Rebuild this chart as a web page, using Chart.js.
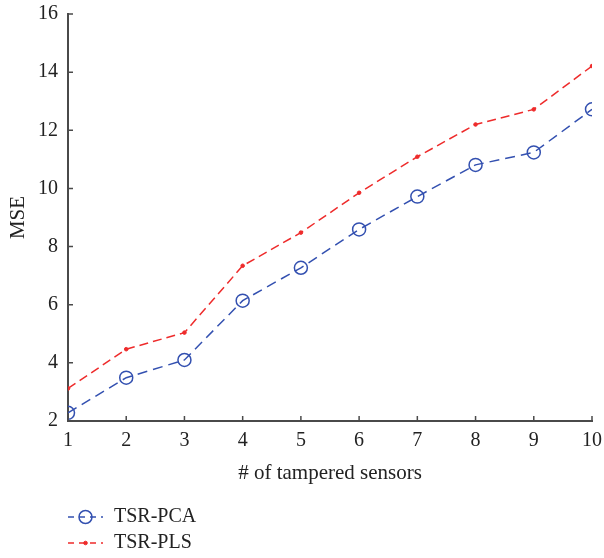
<!DOCTYPE html>
<html>
<head>
<meta charset="utf-8">
<title>MSE vs tampered sensors</title>
<script src="https://cdn.jsdelivr.net/npm/chart.js@4.4.1/dist/chart.umd.min.js"></script>
<style>
  html, body { margin: 0; padding: 0; background: #fff; }
  #wrap { width: 604px; height: 558px; position: relative; }
</style>
</head>
<body>
<div id="wrap"><canvas id="c" width="604" height="558"></canvas></div>
<script>
// Number of tampered sensors
const sensors = [1, 2, 3, 4, 5, 6, 7, 8, 9, 10];
// Mean squared error of each detector
const pcaMSE = [2.28, 3.49, 4.10, 6.14, 7.27, 8.59, 9.72, 10.81, 11.24, 12.72];
const plsMSE = [3.12, 4.47, 5.04, 7.34, 8.48, 9.85, 11.09, 12.20, 12.72, 14.21];
// Axis ticks
const xTicks = [1, 2, 3, 4, 5, 6, 7, 8, 9, 10];
const yTicks = [2, 4, 6, 8, 10, 12, 14, 16];

const SERIF = '"Liberation Serif", "DejaVu Serif", serif';
const AXIS = '#4a4a4a';
const BLUE = '#3350b0';
const RED = '#ee2b2b';

// Short tick marks pointing into the plot area
const innerTicks = {
  id: 'innerTicks',
  afterDraw(chart) {
    const { ctx, scales: { x, y } } = chart;
    const len = 5;
    ctx.save();
    ctx.strokeStyle = AXIS;
    ctx.lineWidth = 1.5;
    ctx.beginPath();
    xTicks.forEach(v => {
      const px = x.getPixelForValue(v);
      ctx.moveTo(px, y.bottom);
      ctx.lineTo(px, y.bottom - len);
    });
    yTicks.forEach(v => {
      const py = y.getPixelForValue(v);
      ctx.moveTo(x.left, py);
      ctx.lineTo(x.left + len, py);
    });
    ctx.stroke();
    ctx.restore();
  }
};

// Legend stacked under the axis: dashed sample line with its marker, then the label
const stackedLegend = {
  id: 'stackedLegend',
  afterDraw(chart) {
    const { ctx } = chart;
    const x0 = chart.chartArea.left;
    const rows = [517, 543];
    ctx.save();
    chart.data.datasets.forEach((ds, i) => {
      const cy = rows[i];
      ctx.strokeStyle = ds.borderColor;
      ctx.lineWidth = ds.borderWidth;
      ctx.setLineDash([6, 5]);
      ctx.beginPath();
      ctx.moveTo(x0, cy);
      ctx.lineTo(x0 + 35, cy);
      ctx.stroke();
      ctx.setLineDash([]);
      const mx = x0 + 17.5;
      ctx.beginPath();
      ctx.arc(mx, cy, ds.pointRadius, 0, Math.PI * 2);
      if (ds.pointBackgroundColor && ds.pointBackgroundColor !== 'transparent') {
        ctx.fillStyle = ds.pointBackgroundColor;
        ctx.fill();
      }
      ctx.strokeStyle = ds.pointBorderColor;
      ctx.lineWidth = ds.pointBorderWidth;
      ctx.stroke();
      ctx.fillStyle = '#222';
      ctx.font = '20px ' + SERIF;
      ctx.textAlign = 'left';
      ctx.textBaseline = 'middle';
      ctx.fillText(ds.label, x0 + 46, cy);
    });
    ctx.restore();
  }
};

new Chart(document.getElementById('c'), {
  type: 'line',
  data: {
    labels: sensors,
    datasets: [
      {
        label: 'TSR-PCA',
        data: pcaMSE,
        borderColor: BLUE,
        borderWidth: 1.5,
        borderDash: [10, 6],
        pointStyle: 'circle',
        pointRadius: 6.5,
        pointBorderColor: BLUE,
        pointBackgroundColor: 'transparent',
        pointBorderWidth: 1.5,
        tension: 0
      },
      {
        label: 'TSR-PLS',
        data: plsMSE,
        borderColor: RED,
        borderWidth: 1.5,
        borderDash: [9, 5],
        pointStyle: 'circle',
        pointRadius: 1.8,
        pointBorderColor: RED,
        pointBackgroundColor: RED,
        pointBorderWidth: 1,
        tension: 0
      }
    ]
  },
  options: {
    responsive: false,
    animation: false,
    layout: { padding: { left: 0, right: 12, top: 14, bottom: 73 } },
    plugins: {
      legend: { display: false },
      tooltip: { enabled: false }
    },
    scales: {
      x: {
        type: 'linear',
        min: 1,
        max: 10,
        afterFit(scale) {
          scale.height = 64;
          scale.paddingLeft = 0;
          scale.paddingRight = 0;
        },
        afterBuildTicks(scale) { scale.ticks = xTicks.map(v => ({ value: v })); },
        grid: { display: true, drawOnChartArea: false, drawTicks: false },
        border: { display: true, color: AXIS, width: 2 },
        ticks: {
          color: '#222',
          font: { family: SERIF, size: 20 },
          padding: 8,
          maxRotation: 0
        },
        title: {
          display: true,
          text: '# of tampered sensors',
          color: '#222',
          font: { family: SERIF, size: 21 },
          padding: { top: 4, bottom: -1 }
        }
      },
      y: {
        min: 2,
        max: 16,
        afterFit(scale) {
          scale.width = 68;
          scale.paddingTop = 0;
          scale.paddingBottom = 0;
        },
        afterBuildTicks(scale) { scale.ticks = yTicks.map(v => ({ value: v })); },
        grid: { display: true, drawOnChartArea: false, drawTicks: false },
        border: { display: true, color: AXIS, width: 2 },
        ticks: {
          color: '#222',
          font: { family: SERIF, size: 20 },
          padding: 10
        },
        title: {
          display: true,
          text: 'MSE',
          color: '#222',
          font: { family: SERIF, size: 21 },
          padding: { top: 6, bottom: 6 }
        }
      }
    }
  },
  plugins: [innerTicks, stackedLegend]
});
</script>
</body>
</html>
